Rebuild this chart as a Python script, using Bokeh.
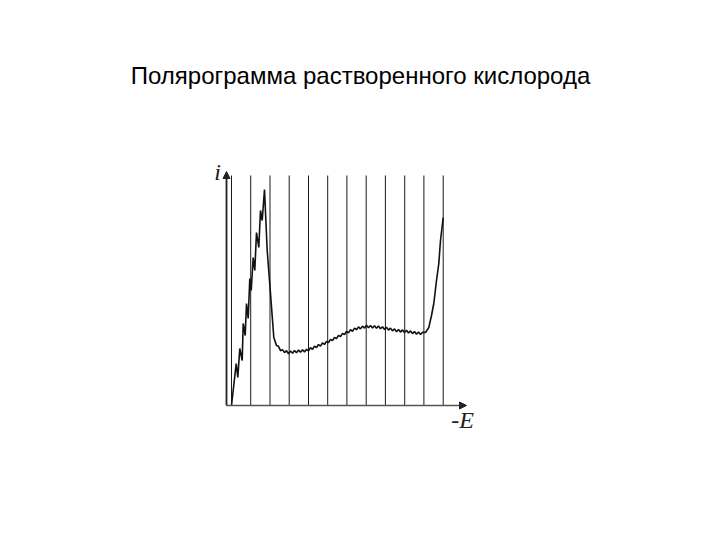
from bokeh.plotting import figure
from bokeh.models import Range1d, Arrow, NormalHead
from bokeh.core.properties import value
from bokeh.embed import file_html
from bokeh.resources import INLINE

# Data (units: potential -E along x, current i along y; arbitrary units)
title_text = "Полярограмма растворенного кислорода"
y_label = "i"
x_label = "-E"

# drop times (vertical lines marking mercury drop intervals)
drop_lines = [5, 24.2, 43.5, 62.7, 82, 101.2, 120.4, 139.7, 158.9, 178.2, 197.4, 216.7]
line_top = 230

# axis extents
x_axis_end = 240
y_axis_end = 234

# polarogram: sawtooth rise (first wave), drop, plateau with oscillations, final rise
curve_E = [5, 9.7, 11.3, 13.3, 15.7, 16.7, 18.7, 20, 21.7, 23.3, 24.7, 26.7, 28.3, 30, 32.3,
           34, 35.7, 38, 40.7, 44, 47.3, 50,
           52, 54, 56, 58, 60, 62, 64, 66, 68, 70, 72, 74, 76, 78, 80, 82, 84, 86, 88, 90,
           92, 94, 96, 98, 100, 102, 104, 106, 108, 110, 112, 114, 116, 118, 120, 122, 124,
           126, 128, 130, 132, 134, 136, 138, 140, 142, 144, 146, 148, 150, 152, 154, 156,
           158, 160, 162, 164, 166, 168, 170, 172, 174, 176, 178, 180, 182, 184, 186, 188,
           190, 192, 194, 196,
           199, 202.3, 205, 207.3, 210, 212.3, 214, 216.7]
curve_i = [0, 42, 28, 57, 45, 82, 70, 102, 87, 127, 115, 148, 135, 173, 158,
           195, 185, 216, 155, 112, 68, 60,
           59.2, 54.8, 55.9, 52.9, 54.8, 51.8, 54.5, 52.3, 55.0, 52.8, 55.4, 53.2, 55.8, 53.6,
           56.2, 54.6, 57.8, 56.2, 59.4, 57.8, 61.0, 59.4, 62.6, 61.0, 64.2, 62.8, 66.2, 64.8,
           68.2, 66.8, 70.2, 68.8, 72.2, 70.8, 74.2, 72.6, 75.8, 74.2, 77.4, 75.8, 78.6, 76.6,
           79.4, 77.4, 80.2, 77.7, 80.0, 77.5, 79.8, 77.3, 79.4, 76.7, 78.8, 76.1, 78.2, 75.4,
           77.4, 74.6, 76.6, 73.8, 76.0, 73.4, 75.6, 73.0, 75.2, 72.5, 74.6, 71.9, 74.0, 71.3,
           73.5, 71.0, 73.2,
           73, 78, 90, 102, 125, 142, 165, 188]

p = figure(width=704, height=524, output_backend="svg", toolbar_location=None,
           x_range=Range1d(-226, 478), y_range=Range1d(-119, 405),
           min_border=0, min_border_left=0, min_border_right=0,
           min_border_top=0, min_border_bottom=0)
p.axis.visible = False
p.grid.visible = False
p.outline_line_color = None
p.background_fill_color = "white"

# vertical drop lines
p.segment(x0=drop_lines, y0=[0] * len(drop_lines), x1=drop_lines, y1=[line_top] * len(drop_lines),
          line_color="#1a1a1a", line_width=1)

# axes with arrows
p.add_layout(Arrow(end=NormalHead(size=7, fill_color="#222222", line_color="#222222"),
                   x_start=0, y_start=0, x_end=x_axis_end, y_end=0,
                   line_color="#555555", line_width=1.5))
p.add_layout(Arrow(end=NormalHead(size=7, fill_color="#222222", line_color="#222222"),
                   x_start=0, y_start=0, x_end=0, y_end=y_axis_end,
                   line_color="#222222", line_width=1.8))

# curve
p.line(curve_E, curve_i, line_color="#111111", line_width=1.6)

# axis labels
p.text(x=[-9], y=[234], text=[y_label], text_font=value("Liberation Serif"),
       text_font_style="italic", text_font_size="24px", text_align="center",
       text_baseline="middle", text_color="#222222")
p.text(x=[236], y=[-14], text=[x_label], text_font=value("Liberation Serif"),
       text_font_style="italic", text_font_size="24px", text_align="center",
       text_baseline="middle", text_color="#222222")

# title
p.text(x=[134], y=[330], text=[title_text], text_font=value("Liberation Sans"),
       text_font_size="24px", text_align="center", text_baseline="middle",
       text_color="#000000")

open("out.html", "w").write(file_html(p, INLINE))
